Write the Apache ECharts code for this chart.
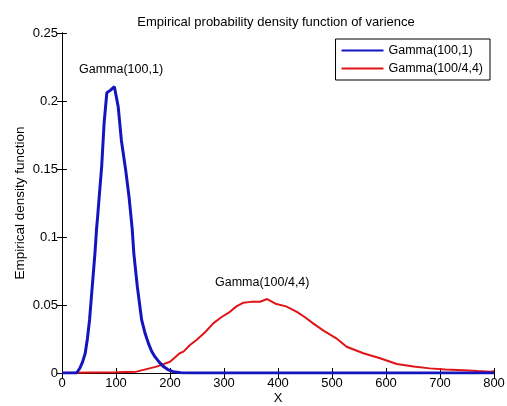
<!DOCTYPE html>
<html>
<head>
<meta charset="utf-8">
<script src="https://cdn.jsdelivr.net/npm/echarts@6/dist/echarts.min.js"></script>
<style>html,body{margin:0;padding:0;background:#fff;overflow:hidden}#c{width:507px;height:406px}</style>
</head>
<body>
<div id="c"></div>
<script>
// Empirical density of the sample variance, two generating distributions
const seriesNames = ['Gamma(100,1)', 'Gamma(100/4,4)'];

const gammaX = [0, 20, 27, 33, 38, 43, 47, 51, 56, 61, 64, 66, 69, 73.5, 78, 83, 90, 97,
  104, 110, 118, 124, 130, 133, 139.5, 147.5, 154, 160, 166, 172, 180, 188, 196, 206,
  220, 240, 300, 400, 500, 600, 700, 800];
const gammaY = [0, 0, 0, 0.0035, 0.008, 0.0145, 0.025, 0.039, 0.0635, 0.088, 0.106,
  0.115, 0.130, 0.152, 0.184, 0.206, 0.208, 0.2105, 0.196, 0.171, 0.149, 0.130, 0.106,
  0.088, 0.0635, 0.039, 0.029, 0.0218, 0.016, 0.012, 0.008, 0.0047, 0.0025, 0.001,
  0.0002, 0, 0, 0, 0, 0, 0, 0];

const scaledX = [0, 50, 100, 138, 175, 200, 218, 225, 237, 249, 265, 280, 295, 311, 323,
  336, 350, 367, 380, 397, 415, 435, 450, 465, 485, 508, 527, 558, 589, 620, 651, 681,
  710, 743, 770, 793, 800];
const scaledY = [0, 0.0003, 0.0006, 0.001, 0.0047, 0.0083, 0.0145, 0.0157, 0.0206,
  0.0243, 0.030, 0.0365, 0.041, 0.045, 0.049, 0.0517, 0.0523, 0.0524, 0.0544, 0.0507,
  0.049, 0.045, 0.041, 0.0365, 0.031, 0.0255, 0.0193, 0.0145, 0.0108, 0.0066, 0.0047,
  0.0034, 0.0026, 0.0021, 0.0014, 0.0010, 0.0012];

const xTicks = [0, 100, 200, 300, 400, 500, 600, 700, 800];
const yTicks = [0, 0.05, 0.1, 0.15, 0.2, 0.25];

const pairs = (xs, ys) => xs.map((x, i) => [x, ys[i]]);
const font = 'Liberation Sans, Arial, sans-serif';

const chart = echarts.init(document.getElementById('c'), null, { renderer: 'canvas' });

const axisCommon = {
  axisLine: { show: true, lineStyle: { color: '#000', width: 1 } },
  axisTick: { show: true, inside: true, length: 5, lineStyle: { color: '#000' } },
  splitLine: { show: false }
};

chart.setOption({
  animation: false,
  backgroundColor: '#fff',
  title: {
    text: 'Empirical probability density function of varience',
    left: 271, top: 11, textAlign: 'center',
    textStyle: { fontFamily: font, fontSize: 13, fontWeight: 'normal', color: '#000' }
  },
  grid: { left: 62, top: 33, width: 432, height: 340, containLabel: false, outerBoundsMode: 'none' },
  xAxis: [
    Object.assign({
      type: 'value', min: xTicks[0], max: xTicks[xTicks.length - 1], interval: 100,
      name: 'X', nameLocation: 'middle', nameGap: 19, nameMoveOverlap: false,
      nameTextStyle: { fontFamily: font, fontSize: 13, color: '#000' },
      axisLabel: { fontFamily: font, fontSize: 13, color: '#000', margin: 4 }
    }, axisCommon),
    Object.assign({
      type: 'value', position: 'top', min: xTicks[0], max: xTicks[xTicks.length - 1],
      interval: 100, axisLabel: { show: false }
    }, axisCommon)
  ],
  yAxis: [
    Object.assign({
      type: 'value', min: yTicks[0], max: yTicks[yTicks.length - 1], interval: 0.05,
      name: 'Empirical density function', nameLocation: 'middle', nameGap: 35,
      nameMoveOverlap: false,
      nameTextStyle: { fontFamily: font, fontSize: 13.5, color: '#000' },
      axisLabel: { fontFamily: font, fontSize: 13, color: '#000', margin: 4 }
    }, axisCommon),
    Object.assign({
      type: 'value', position: 'right', min: yTicks[0], max: yTicks[yTicks.length - 1],
      interval: 0.05, axisLabel: { show: false }
    }, axisCommon)
  ],
  legend: {
    right: 17, top: 39, orient: 'vertical', itemGap: 5,
    itemWidth: 42, itemHeight: 14, padding: [5, 7, 5, 6],
    borderColor: '#000', borderWidth: 1, backgroundColor: '#fff',
    icon: 'path://M0,6 L42,6 L42,8 L0,8 Z',
    textStyle: { fontFamily: font, fontSize: 12.5, color: '#000' },
    data: seriesNames
  },
  series: [
    {
      name: seriesNames[0], type: 'line', data: pairs(gammaX, gammaY),
      showSymbol: false, color: '#1515c0',
      lineStyle: { width: 3, color: '#1515c0' }, z: 3
    },
    {
      name: seriesNames[1], type: 'line', data: pairs(scaledX, scaledY),
      showSymbol: false, color: '#e01418',
      lineStyle: { width: 2, color: '#e01418' }, z: 2
    }
  ],
  graphic: [
    { type: 'text', left: 79, top: 63,
      style: { text: seriesNames[0], font: '12.5px ' + font, fill: '#000' } },
    { type: 'text', left: 215, top: 276,
      style: { text: seriesNames[1], font: '12.5px ' + font, fill: '#000' } }
  ]
});
</script>
</body>
</html>
